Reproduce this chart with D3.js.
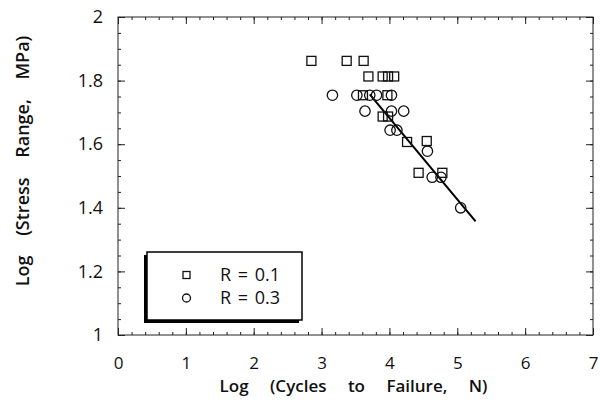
<!DOCTYPE html>
<html>
<head>
<meta charset="utf-8">
<script src="https://cdn.jsdelivr.net/npm/d3@7"></script>
<style>
  body { margin: 0; background: #fff; }
  text { font-family: "Open Sans", sans-serif; fill: #111; }
</style>
</head>
<body>
<div id="container"></div>
<script>
// R = 0.1 (squares)
const sqX = [2.85, 3.37, 3.62, 3.69, 3.90, 3.98, 4.07, 3.61, 3.97, 3.90, 3.98, 4.26, 4.55, 4.43, 4.78];
const sqY = [1.862, 1.862, 1.862, 1.813, 1.813, 1.813, 1.813, 1.754, 1.754, 1.687, 1.687, 1.607, 1.610, 1.510, 1.510];
// R = 0.3 (circles)
const ciX = [3.16, 3.52, 3.71, 3.81, 4.03, 3.64, 4.03, 4.21, 4.01, 4.11, 4.56, 4.63, 4.76, 5.05];
const ciY = [1.754, 1.754, 1.754, 1.754, 1.754, 1.704, 1.704, 1.704, 1.644, 1.644, 1.578, 1.496, 1.496, 1.400];
// fitted line
const fitX = [3.71, 5.27];
const fitY = [1.757, 1.357];

const xTicks = [0, 1, 2, 3, 4, 5, 6, 7];
const yTicks = [1, 1.2, 1.4, 1.6, 1.8, 2];
const legendLabels = ["R = 0.1", "R = 0.3"];

var margin = {top: 17, right: 7, bottom: 67, left: 118},
    width = 600 - margin.left - margin.right,
    height = 402 - margin.top - margin.bottom;

const svg = d3.select("#container")
  .append("svg")
    .attr("width", 600)
    .attr("height", 402)
  .append("g")
    .attr("transform", "translate(" + margin.left + "," + margin.top + ")");

const x = d3.scaleLinear().domain([0, 7]).range([0, width]);
const y = d3.scaleLinear().domain([1, 2]).range([height, 0]);

const xMinor = d3.range(0, 7.001, 0.2);
const yMinor = d3.range(1, 2.001, 0.05);

function styleAxis(g) {
  g.select(".domain").remove();
  g.selectAll("line").attr("stroke", "#222").attr("stroke-width", 1);
}

// minor ticks, all four sides, pointing in
svg.append("g").attr("transform", `translate(0,${height})`)
  .call(d3.axisBottom(x).tickValues(xMinor).tickSize(-3).tickFormat(""))
  .call(styleAxis);
svg.append("g")
  .call(d3.axisTop(x).tickValues(xMinor).tickSize(-3).tickFormat(""))
  .call(styleAxis);
svg.append("g")
  .call(d3.axisLeft(y).tickValues(yMinor).tickSize(-3).tickFormat(""))
  .call(styleAxis);
svg.append("g").attr("transform", `translate(${width},0)`)
  .call(d3.axisRight(y).tickValues(yMinor).tickSize(-3).tickFormat(""))
  .call(styleAxis);

// major ticks with labels
svg.append("g").attr("transform", `translate(0,${height})`)
  .call(d3.axisBottom(x).tickValues(xTicks).tickSize(-7).tickPadding(22).tickFormat(d3.format("d")))
  .call(styleAxis)
  .selectAll("text").style("font-size", "17px").attr("fill", "#111");
svg.append("g")
  .call(d3.axisTop(x).tickValues(xTicks).tickSize(-7).tickFormat(""))
  .call(styleAxis);
svg.append("g")
  .call(d3.axisLeft(y).tickValues(yTicks).tickSize(-7).tickPadding(15).tickFormat(d => d3.format("")(+d.toFixed(1))))
  .call(styleAxis)
  .selectAll("text").style("font-size", "18px").attr("fill", "#111");
svg.append("g").attr("transform", `translate(${width},0)`)
  .call(d3.axisRight(y).tickValues(yTicks).tickSize(-7).tickFormat(""))
  .call(styleAxis);

// frame
svg.append("rect")
  .attr("width", width).attr("height", height)
  .attr("fill", "none").attr("stroke", "#222").attr("stroke-width", 1);

// fit line
svg.append("line")
  .attr("x1", x(fitX[0])).attr("y1", y(fitY[0]))
  .attr("x2", x(fitX[1])).attr("y2", y(fitY[1]))
  .attr("stroke", "#000").attr("stroke-width", 2);

// squares
const sq = 9;
svg.selectAll(".sq")
  .data(sqX.map((d, i) => [d, sqY[i]]))
  .enter().append("rect")
  .attr("class", "sq")
  .attr("x", d => x(d[0]) - sq / 2)
  .attr("y", d => y(d[1]) - sq / 2)
  .attr("width", sq).attr("height", sq)
  .attr("fill", "none").attr("stroke", "#111").attr("stroke-width", 1.3);

// circles
svg.selectAll(".ci")
  .data(ciX.map((d, i) => [d, ciY[i]]))
  .enter().append("circle")
  .attr("class", "ci")
  .attr("cx", d => x(d[0]))
  .attr("cy", d => y(d[1]))
  .attr("r", 5.2)
  .attr("fill", "none").attr("stroke", "#111").attr("stroke-width", 1.3);

// legend
const lx = 147 - margin.left, ly = 252 - margin.top, lw = 155, lh = 68;
svg.append("rect")
  .attr("x", lx - 3).attr("y", ly + 3).attr("width", lw).attr("height", lh)
  .attr("fill", "#000");
svg.append("rect")
  .attr("x", lx).attr("y", ly).attr("width", lw).attr("height", lh)
  .attr("fill", "#fff").attr("stroke", "#000").attr("stroke-width", 1.5);

const legend = svg.selectAll(".legend")
  .data(legendLabels)
  .enter().append("g")
  .attr("class", "legend")
  .attr("transform", (d, i) => `translate(${lx},${ly + 23 + i * 23})`);

legend.filter((d, i) => i === 0).append("rect")
  .attr("x", 36).attr("y", -3.5).attr("width", 7).attr("height", 7)
  .attr("fill", "none").attr("stroke", "#111").attr("stroke-width", 1.3);
legend.filter((d, i) => i === 1).append("circle")
  .attr("cx", 39.5).attr("cy", 0).attr("r", 4)
  .attr("fill", "none").attr("stroke", "#111").attr("stroke-width", 1.3);

legend.append("text")
  .attr("x", 73)
  .attr("dy", "0.35em")
  .style("font-size", "18px")
  .style("word-spacing", "2px")
  .text(d => d);

// axis titles
svg.append("text")
  .attr("x", width / 2 - 2)
  .attr("y", height + 57)
  .attr("text-anchor", "middle")
  .style("font-size", "17px")
  .style("font-weight", "600")
  .style("word-spacing", "17px")
  .text("Log (Cycles to Failure, N)");

svg.append("text")
  .attr("transform", `translate(${23 - margin.left},${161 - margin.top}) rotate(-90)`)
  .attr("text-anchor", "middle")
  .attr("dy", "0.35em")
  .style("font-size", "18px")
  .style("font-weight", "600")
  .style("word-spacing", "15px")
  .text("Log (Stress Range, MPa)");
</script>
</body>
</html>
